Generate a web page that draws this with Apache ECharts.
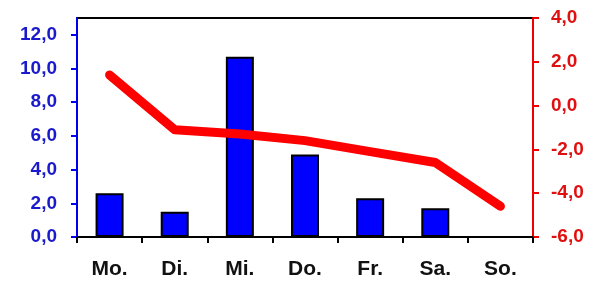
<!DOCTYPE html>
<html>
<head>
    <meta charset="UTF-8">
    <title>Woche</title>
    <style>
        html, body {
            margin: 0;
            padding: 0;
            background: #fff;
        }
        #main {
            width: 607px;
            height: 284px;
        }
    </style>
    <script src="https://cdn.jsdelivr.net/npm/echarts@6/dist/echarts.min.js"></script>
</head>
<body>
<div id="main"></div>
<script type="text/javascript">
    // Wochentage
    var days = ['Mo.', 'Di.', 'Mi.', 'Do.', 'Fr.', 'Sa.', 'So.'];
    // Säulen (linke Achse)
    var barValues = [2.6, 1.5, 10.7, 4.9, 2.3, 1.7, null];
    // Linie (rechte Achse)
    var lineValues = [1.4, -1.1, -1.3, -1.6, -2.1, -2.6, -4.6];
    // Achsenbeschriftungen
    var leftTicks = [0, 2, 4, 6, 8, 10, 12];
    var rightTicks = [-6, -4, -2, 0, 2, 4];

    function fmt(v) {
        return Number(v).toFixed(1).replace('.', ',');
    }

    var myChart = echarts.init(document.getElementById('main'));
    var option = {
        animation: false,
        grid: {
            left: 77,
            right: 74,
            top: 18,
            bottom: 47,
            show: true,
            borderColor: '#000',
            borderWidth: 2
        },
        xAxis: {
            type: 'category',
            data: days,
            axisLine: {lineStyle: {color: '#000', width: 2}},
            axisTick: {show: true, length: 6, lineStyle: {color: '#000', width: 2}},
            axisLabel: {
                margin: 22,
                color: '#111',
                fontFamily: 'Liberation Sans',
                fontWeight: 'bold',
                fontSize: 21
            }
        },
        yAxis: [{
            type: 'value',
            min: 0,
            max: 13,
            position: 'left',
            splitLine: {show: false},
            axisLine: {show: true, lineStyle: {color: '#0000ee', width: 2}},
            axisTick: {show: true, length: 6, customValues: leftTicks,
                lineStyle: {color: '#0000ee', width: 2}},
            axisLabel: {
                customValues: leftTicks,
                formatter: fmt,
                margin: 20,
                color: '#1a1acc',
                fontFamily: 'Liberation Sans',
                fontWeight: 'bold',
                fontSize: 19
            }
        }, {
            type: 'value',
            min: -6,
            max: 4,
            interval: 2,
            position: 'right',
            splitLine: {show: false},
            axisLine: {show: true, lineStyle: {color: '#ee0000', width: 2}},
            axisTick: {show: true, length: 6, lineStyle: {color: '#ee0000', width: 2}},
            axisLabel: {
                formatter: fmt,
                margin: 18,
                color: '#e01010',
                fontFamily: 'Liberation Sans',
                fontWeight: 'bold',
                fontSize: 19
            }
        }],
        series: [{
            type: 'bar',
            yAxisIndex: 0,
            data: barValues,
            barWidth: 28,
            itemStyle: {color: '#0000ff', borderColor: '#000', borderWidth: 2}
        }, {
            type: 'line',
            yAxisIndex: 1,
            data: lineValues,
            showSymbol: false,
            lineStyle: {color: '#ff0000', width: 9, join: 'round', cap: 'round'},
            z: 3
        }]
    };
    myChart.setOption(option);
</script>
</body>
</html>
